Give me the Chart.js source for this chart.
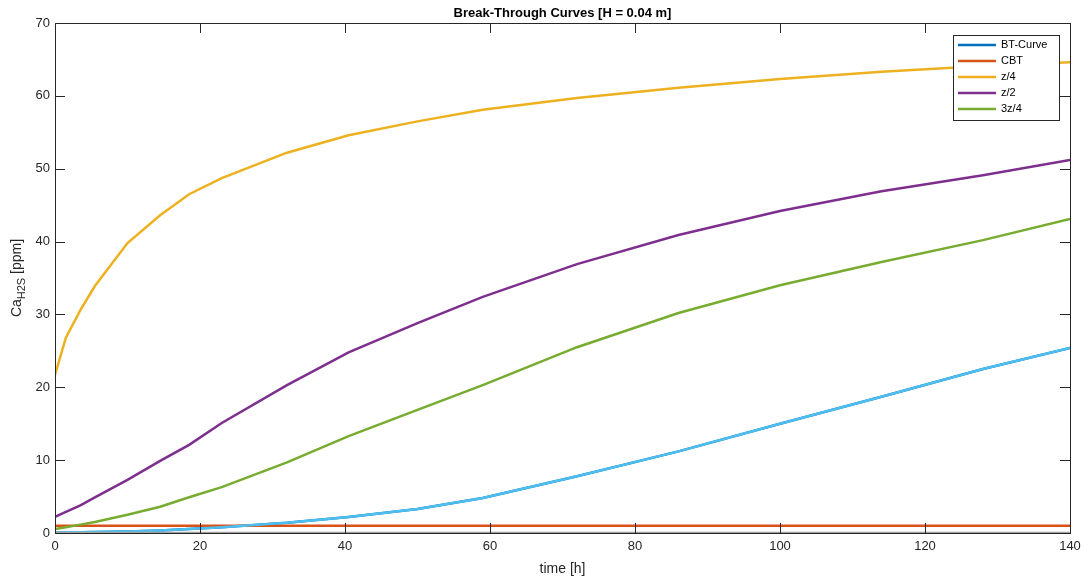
<!DOCTYPE html>
<html>
<head>
<meta charset="utf-8">
<script src="https://cdn.jsdelivr.net/npm/chart.js@4"></script>
<style>
  html, body { margin: 0; padding: 0; background: #fff; }
  #wrap { width: 1089px; height: 586px; }
</style>
</head>
<body>
<div id="wrap"><canvas id="btc"></canvas></div>
<script>
// time steps (h) and concentrations (ppm)
const times = [0, 1.5, 3.5, 5.5, 10, 14.5, 18.5, 23, 32, 40.5, 50, 59, 72, 86, 100, 114, 128, 140];
const btCurve = [0.1, 0.1, 0.12, 0.14, 0.2, 0.35, 0.55, 0.8, 1.4, 2.2, 3.3, 4.8, 7.8, 11.2, 15.0, 18.7, 22.5, 25.4];
const cbt = [1.0, 1.0, 1.0, 1.0, 1.0, 1.0, 1.0, 1.0, 1.0, 1.0, 1.0, 1.0, 1.0, 1.0, 1.0, 1.0, 1.0, 1.0];
const zQuarter = [21.7, 26.8, 30.6, 33.9, 39.8, 43.6, 46.5, 48.7, 52.2, 54.6, 56.5, 58.1, 59.7, 61.1, 62.3, 63.3, 64.1, 64.6];
const zHalf = [2.2, 2.9, 3.8, 4.9, 7.3, 9.9, 12.1, 15.1, 20.3, 24.8, 28.8, 32.4, 36.9, 40.9, 44.2, 46.9, 49.1, 51.2];
const zThreeQuarter = [0.55, 0.8, 1.15, 1.5, 2.5, 3.6, 4.9, 6.3, 9.7, 13.3, 16.9, 20.3, 25.5, 30.2, 34.0, 37.2, 40.2, 43.1];
const zOutlet = [0.1, 0.1, 0.12, 0.14, 0.2, 0.35, 0.55, 0.8, 1.4, 2.2, 3.3, 4.8, 7.8, 11.2, 15.0, 18.7, 22.5, 25.4];
const zInlet = [0, 0, 0, 0, 0, 0, 0, 0, 0, 0, 0, 0, 0, 0, 0, 0, 0, 0];

const xTicks = [0, 20, 40, 60, 80, 100, 120, 140];
const yTicks = [0, 10, 20, 30, 40, 50, 60, 70];

const legendNames = ["BT-Curve", "CBT", "z/4", "z/2", "3z/4"];
const FONT = "'Liberation Sans', Arial, sans-serif";
const AX = "#262626";

const pts = (arr) => times.map((t, i) => ({ x: t, y: arr[i] }));
const line = (label, arr, color, order) => ({
    label, data: pts(arr), borderColor: color, backgroundColor: color,
    borderWidth: 2.5, pointRadius: 0, tension: 0, fill: false, order
});

// MATLAB-like frame: inward ticks on all four sides, custom labels and legend
const matlabFrame = {
    id: "matlabFrame",
    afterDraw(chart) {
        const { ctx, chartArea: a, scales } = chart;
        const xs = scales.x, ys = scales.y;
        ctx.save();
        ctx.strokeStyle = AX;
        ctx.lineWidth = 1;
        ctx.strokeRect(a.left + 0.5, a.top + 0.5, a.right - a.left, a.bottom - a.top);
        ctx.beginPath();
        xTicks.forEach(v => {
            const px = Math.round(xs.getPixelForValue(v)) + 0.5;
            ctx.moveTo(px, a.bottom); ctx.lineTo(px, a.bottom - 10);
            ctx.moveTo(px, a.top); ctx.lineTo(px, a.top + 10);
        });
        yTicks.forEach(v => {
            const py = Math.round(ys.getPixelForValue(v)) + 0.5;
            ctx.moveTo(a.left, py); ctx.lineTo(a.left + 10, py);
            ctx.moveTo(a.right, py); ctx.lineTo(a.right - 10, py);
        });
        ctx.stroke();

        // tick labels
        ctx.fillStyle = AX;
        ctx.font = "13px " + FONT;
        ctx.textAlign = "center"; ctx.textBaseline = "top";
        xTicks.forEach(v => ctx.fillText(String(v), xs.getPixelForValue(v), a.bottom + 7));
        ctx.textAlign = "right"; ctx.textBaseline = "middle";
        yTicks.forEach(v => ctx.fillText(String(v), a.left - 5, ys.getPixelForValue(v)));

        // title
        ctx.font = "bold 13px " + FONT;
        ctx.textAlign = "center"; ctx.textBaseline = "middle";
        ctx.fillStyle = "#000";
        ctx.fillText("Break-Through Curves [H = 0.04 m]", (a.left + a.right) / 2, 13);

        // axis titles
        ctx.fillStyle = AX;
        ctx.font = "14px " + FONT;
        ctx.fillText("time [h]", (a.left + a.right) / 2, 569);
        ctx.save();
        ctx.translate(17, (a.top + a.bottom) / 2);
        ctx.rotate(-Math.PI / 2);
        ctx.textAlign = "left"; ctx.textBaseline = "middle";
        const w1 = ctx.measureText("Ca").width;
        ctx.font = "11px " + FONT;
        const w2 = ctx.measureText("H2S").width;
        ctx.font = "14px " + FONT;
        const w3 = ctx.measureText(" [ppm]").width;
        let sx = -(w1 + w2 + w3) / 2;
        ctx.fillText("Ca", sx, 0); sx += w1;
        ctx.font = "11px " + FONT;
        ctx.fillText("H2S", sx, 5); sx += w2;
        ctx.font = "14px " + FONT;
        ctx.fillText(" [ppm]", sx, 0);
        ctx.restore();

        // legend box
        const lx = 953, ly = 35, lw = 106, lh = 85;
        ctx.fillStyle = "#fff";
        ctx.fillRect(lx, ly, lw, lh);
        ctx.strokeStyle = AX;
        ctx.strokeRect(lx + 0.5, ly + 0.5, lw, lh);
        ctx.font = "11px " + FONT;
        ctx.textAlign = "left"; ctx.textBaseline = "middle";
        legendNames.forEach((name, i) => {
            const ds = chart.data.datasets[i];
            const yy = ly + 10 + i * 16;
            ctx.strokeStyle = ds.borderColor;
            ctx.lineWidth = 2.5;
            ctx.beginPath(); ctx.moveTo(lx + 5, yy); ctx.lineTo(lx + 43, yy); ctx.stroke();
            ctx.fillStyle = "#000";
            ctx.fillText(name, lx + 48, yy);
        });
        ctx.restore();
    }
};

new Chart(document.getElementById("btc"), {
    type: "line",
    data: {
        datasets: [
            line("BT-Curve", btCurve, "#0072BD", 7),
            line("CBT", cbt, "#D95319", 6),
            line("z/4", zQuarter, "#EDB120", 5),
            line("z/2", zHalf, "#7E2F8E", 4),
            line("3z/4", zThreeQuarter, "#77AC30", 3),
            line("z", zOutlet, "#4DBEEE", 2),
            line("z0", zInlet, "#A0A0A0", 1),
        ]
    },
    options: {
        responsive: true,
        maintainAspectRatio: false,
        animation: false,
        layout: { padding: { top: 23, right: 19, left: 0, bottom: 0 } },
        scales: {
            x: {
                type: "linear", min: 0, max: 140,
                grid: { display: false },
                border: { display: false },
                ticks: { display: false },
                afterFit: (s) => { s.height = 53; }
            },
            y: {
                min: 0, max: 70,
                grid: { display: false },
                border: { display: false },
                ticks: { display: false },
                afterFit: (s) => { s.width = 55; }
            }
        },
        plugins: {
            legend: { display: false },
            tooltip: { enabled: false }
        }
    },
    plugins: [matlabFrame]
});
</script>
</body>
</html>
